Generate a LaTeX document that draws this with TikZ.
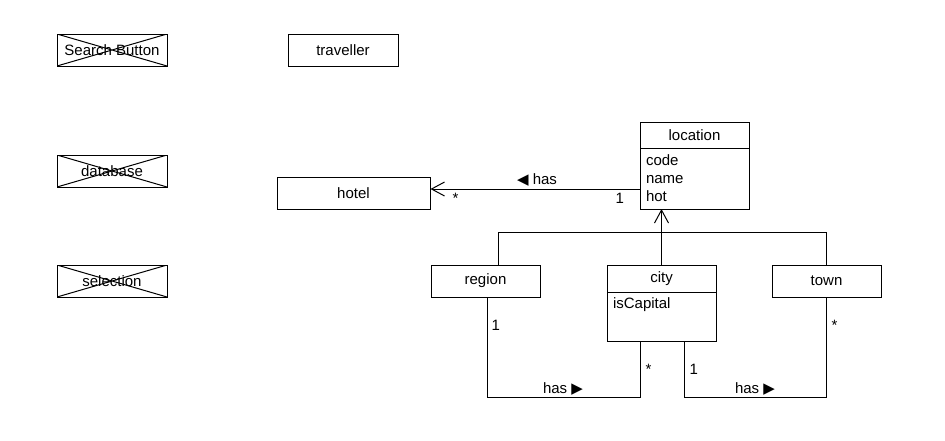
\documentclass[tikz,border=0pt]{standalone}
\usepackage{fontspec}
\setmainfont{Liberation Sans}
\newfontfamily\symfont{DejaVu Sans}
\usepackage{tikz}
\usetikzlibrary{arrows.meta}
\usetikzlibrary{positioning}

\begin{document}
\begin{tikzpicture}[x=1pt,y=-1pt,line width=1pt,font=\fontsize{15}{18}\selectfont,
  class/.style={draw,minimum width=110pt,minimum height=32pt,inner sep=0pt},
  crossed/.style={class,path picture={\draw (path picture bounding box.north west) -- (path picture bounding box.south east) (path picture bounding box.south west) -- (path picture bounding box.north east);}},
  header/.style={draw,minimum width=109pt,inner sep=0pt,outer sep=0pt},
  compart/.style={draw,minimum width=109pt,text width=97pt,align=left,inner xsep=6pt,inner ysep=3pt,outer sep=0pt},
  mult/.style={anchor=base west,inner sep=0pt},
  assoc/.style={anchor=base,inner sep=0pt},
  open arrow/.style={-{Straight Barb[length=13pt,width=14pt]}}]

  \useasboundingbox (0,0) rectangle (945,440);

  \node[crossed] (search) at (112,50) {Search Button};
  \node[class] (traveller) at (343,50) {traveller};
  \node[crossed] (database) at (112,171) {database};
  \node[crossed] (selection) at (112,281) {selection};
  \node[class,minimum width=153pt] (hotel) at (353.5,193) {hotel};

  \node[header,minimum height=26pt] (location) at (694.5,135) {location};
  \node[compart,minimum height=61pt,below=0pt of location] (locattr) {code\\name\\hot};

  \node[class,minimum width=109pt] (region) at (485.5,281) {region};
  \node[header,minimum height=27pt] (city) at (661.5,278.5) {city};
  \node[compart,text height=13pt,text depth=30pt,below=0pt of city] (cityattr) {isCapital};
  \node[class,minimum width=109pt] (town) at (826.5,281) {town};

  % generalisation
  \coordinate (fork) at (city.north |- 0,232.5);
  \draw (region.north -| 498,0) |- (fork) -| (town.north);
  \draw[open arrow] (city.north) -- (city.north |- locattr.south);

  % associations
  \draw[open arrow] (locattr.west |- 0,189) -- (hotel.east |- 0,189);
  \draw ([xshift=1.5pt]region.south) -- ++(0,100) -| ([xshift=-21.5pt]cityattr.south);
  \draw ([xshift=22.5pt]cityattr.south) -- ++(0,56) -| (town.south);

  \node[assoc] (hasHotel) at (537,184) {{\symfont ◀} has};
  \node[mult] (hotelMany) at (452,203) {*};
  \node[mult] (locOne) at (615,203) {1};
  \node[mult] (regionOne) at (491,330) {1};
  \node[mult] (cityMany) at (645,374) {*};
  \node[mult] (cityOne) at (689,374) {1};
  \node[mult] (townMany) at (831,330) {*};
  \node[assoc] (hasRegionCity) at (563,393) {has {\symfont ▶}};
  \node[assoc] (hasCityTown) at (755,393) {has {\symfont ▶}};

\end{tikzpicture}
\end{document}
